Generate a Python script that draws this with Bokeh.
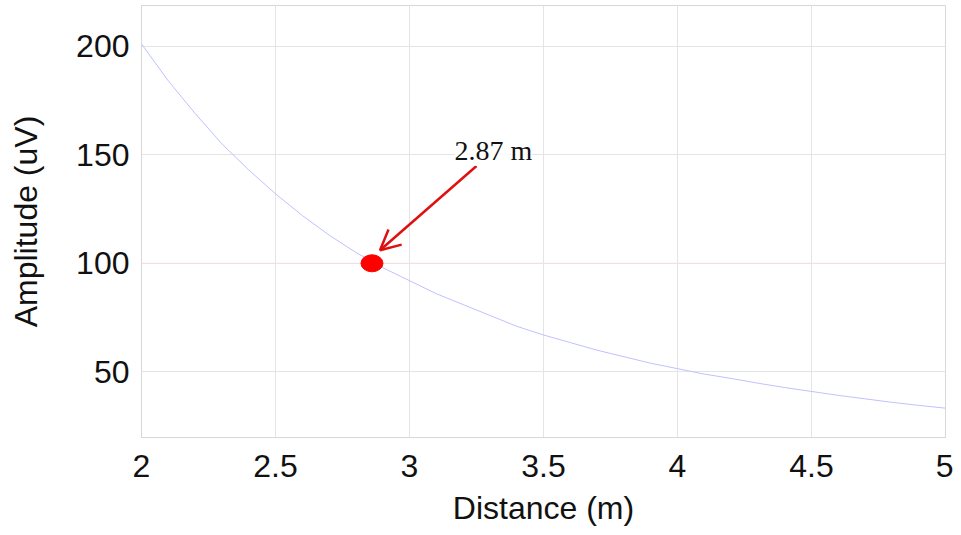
from bokeh.plotting import figure
from bokeh.models import Range1d, Arrow, OpenHead, Span, Label, FixedTicker
from bokeh.embed import file_html
from bokeh.resources import INLINE

# Data
distance = [2.0, 2.1, 2.2, 2.3, 2.4, 2.5, 2.6, 2.7, 2.8, 2.9, 3.0,
            3.1, 3.2, 3.3, 3.4, 3.5, 3.6, 3.7, 3.8, 3.9, 4.0,
            4.1, 4.2, 4.3, 4.4, 4.5, 4.6, 4.7, 4.8, 4.9, 5.0]
amplitude = [201, 184, 169, 155, 143, 132, 122, 113, 105, 98, 92,
             86, 81, 76, 71, 67, 63.5, 60, 57, 54, 51.5,
             49, 47, 44.8, 42.8, 41, 39.2, 37.6, 36, 34.6, 33.3]
marker_x = [2.86]
marker_y = [100]
marker_label = "2.87 m"
x_ticks = [2, 2.5, 3, 3.5, 4, 4.5, 5]
y_ticks = [50, 100, 150, 200]
x_title = "Distance (m)"
y_title = "Amplitude (uV)"

p = figure(width=953, height=534, output_backend="svg", toolbar_location=None,
           x_range=Range1d(2, 5), y_range=Range1d(19.8, 218.7),
           min_border_left=141, min_border_right=8, min_border_top=5,
           min_border_bottom=97)

p.outline_line_color = "#d8d8d8"
p.outline_line_width = 1
p.background_fill_color = "white"

for ax in (p.xaxis[0], p.yaxis[0]):
    ax.axis_line_color = "#d8d8d8"
    ax.major_tick_line_color = None
    ax.minor_tick_line_color = None
    ax.major_label_text_font = "Liberation Sans"
    ax.major_label_text_font_size = "32px"
    ax.major_label_text_color = "#111111"
    ax.axis_label_text_font = "Liberation Sans"
    ax.axis_label_text_font_size = "32px"
    ax.axis_label_text_font_style = "normal"
    ax.axis_label_text_color = "#111111"

p.xaxis.ticker = FixedTicker(ticks=x_ticks)
p.yaxis.ticker = FixedTicker(ticks=y_ticks)
p.xaxis.major_label_overrides = {2: "2", 2.5: "2.5", 3: "3", 3.5: "3.5", 4: "4", 4.5: "4.5", 5: "5"}
p.xaxis.axis_label = x_title
p.yaxis.axis_label = y_title
p.xaxis.major_label_standoff = 11
p.yaxis.major_label_standoff = 6
p.xaxis.axis_label_standoff = 10
p.yaxis.axis_label_standoff = 29

p.xgrid.grid_line_color = "#e4e4e4"
p.ygrid.grid_line_color = "#e4e4e4"
p.xgrid.grid_line_width = 1
p.ygrid.grid_line_width = 1

p.add_layout(Span(location=100, dimension="width", line_color="#f6dede",
                  line_width=1, level="underlay"))

p.line(distance, amplitude, line_color="#c0c0ff", line_width=1)

p.ellipse(marker_x, marker_y, width=22, height=17, width_units="screen",
          height_units="screen", fill_color="#ff0000", line_color="#ff0000")

p.add_layout(Arrow(end=OpenHead(line_color="#e01010", line_width=2.5, size=20),
                   x_start=3.25, y_start=144.8, x_end=2.89, y_end=106,
                   line_color="#e01010", line_width=2.5))

p.add_layout(Label(x=3.1675, y=144.8, text=marker_label, text_font="Liberation Serif",
                   text_font_size="28px", text_color="#111111",
                   background_fill_color="white", background_fill_alpha=0.8))

open("out.html", "w").write(file_html(p, INLINE))
